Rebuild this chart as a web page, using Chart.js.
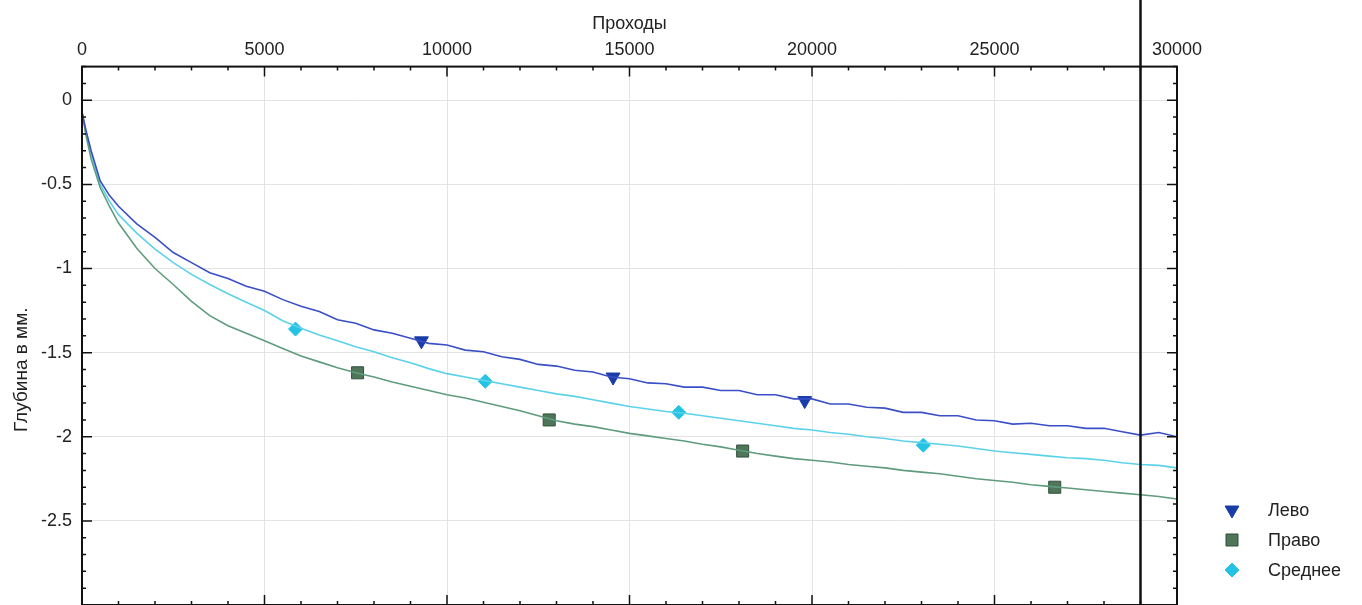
<!DOCTYPE html>
<html lang="ru">
<head>
<meta charset="utf-8">
<title>Глубина по проходам</title>
<script src="https://cdn.jsdelivr.net/npm/chart.js@4.4.1/dist/chart.umd.min.js"></script>
<style>
  html, body { margin: 0; padding: 0; background: #fff; overflow: hidden; }
  #wrap { position: relative; width: 1362px; height: 605px; }
</style>
</head>
<body>
<div id="wrap"><canvas id="depth-chart"></canvas></div>
<script>
// passes (x) shared by the three curves
const passes = [0, 100, 250, 500, 750, 1000, 1500, 2000, 2500, 3000, 3500, 4000, 4500, 5000,
  5500, 6000, 6500, 7000, 7500, 8000, 8500, 9000, 9500, 10000, 10500, 11000, 11500, 12000,
  12500, 13000, 13500, 14000, 14500, 15000, 15500, 16000, 16500, 17000, 17500, 18000, 18500,
  19000, 19500, 20000, 20500, 21000, 21500, 22000, 22500, 23000, 23500, 24000, 24500, 25000,
  25500, 26000, 26500, 27000, 27500, 28000, 28500, 29000, 29500, 30000];

// depth, mm
const levo = [-0.07, -0.17, -0.30, -0.48, -0.565, -0.63, -0.735, -0.815, -0.905, -0.965, -1.025,
  -1.06, -1.105, -1.135, -1.185, -1.225, -1.255, -1.305, -1.325, -1.365, -1.385, -1.415, -1.445,
  -1.455, -1.485, -1.495, -1.525, -1.54, -1.57, -1.58, -1.605, -1.615, -1.645, -1.655, -1.68,
  -1.685, -1.705, -1.705, -1.725, -1.725, -1.75, -1.75, -1.775, -1.775, -1.805, -1.805, -1.825,
  -1.83, -1.855, -1.855, -1.875, -1.875, -1.9, -1.905, -1.925, -1.92, -1.935, -1.935, -1.95,
  -1.95, -1.97, -1.99, -1.975, -2.0];
const pravo = [-0.07, -0.20, -0.35, -0.52, -0.63, -0.73, -0.88, -1.00, -1.095, -1.195, -1.28,
  -1.34, -1.385, -1.43, -1.475, -1.52, -1.555, -1.59, -1.62, -1.645, -1.675, -1.70, -1.725,
  -1.75, -1.77, -1.795, -1.82, -1.845, -1.875, -1.905, -1.925, -1.94, -1.96, -1.98, -1.995,
  -2.01, -2.025, -2.045, -2.06, -2.08, -2.10, -2.115, -2.13, -2.14, -2.15, -2.165, -2.175,
  -2.185, -2.20, -2.21, -2.22, -2.235, -2.25, -2.26, -2.27, -2.285, -2.295, -2.305, -2.315,
  -2.325, -2.335, -2.345, -2.355, -2.37];
const srednee = [-0.07, -0.18, -0.32, -0.50, -0.60, -0.68, -0.79, -0.885, -0.965, -1.035, -1.095,
  -1.15, -1.20, -1.25, -1.31, -1.355, -1.395, -1.43, -1.465, -1.495, -1.53, -1.56, -1.595,
  -1.625, -1.645, -1.665, -1.685, -1.705, -1.725, -1.745, -1.76, -1.78, -1.80, -1.82, -1.835,
  -1.85, -1.86, -1.875, -1.89, -1.905, -1.92, -1.935, -1.95, -1.96, -1.975, -1.985, -2.00,
  -2.01, -2.025, -2.035, -2.045, -2.055, -2.07, -2.085, -2.095, -2.105, -2.115, -2.125, -2.13,
  -2.14, -2.155, -2.165, -2.17, -2.185];

// marker positions on each curve
const levoMarkX = [9300, 14550, 19800];
const levoMarkY = [-1.43, -1.645, -1.785];
const pravoMarkX = [7550, 12800, 18100, 26650];
const pravoMarkY = [-1.62, -1.90, -2.085, -2.30];
const sredMarkX = [5850, 11050, 16350, 23050];
const sredMarkY = [-1.36, -1.67, -1.855, -2.05];

const xTicks = [0, 5000, 10000, 15000, 20000, 25000, 30000];
const yTicks = [0, -0.5, -1, -1.5, -2, -2.5];
const cutAt = 29000;

const zip = (xs, ys) => xs.map((x, i) => ({ x: x, y: ys[i] }));

const FONT = "'Liberation Sans', Arial, sans-serif";
Chart.defaults.font.family = FONT;
Chart.defaults.color = '#222';

// frame with inward ticks, y labels, the cut line, y title and legend
const framePlugin = {
  id: 'frame',
  afterDatasetsDraw(chart) {
    const { ctx, chartArea: a, scales: { x, y } } = chart;
    ctx.save();
    ctx.strokeStyle = '#111';
    ctx.lineWidth = 1.5;
    ctx.beginPath();
    for (let v = 0; v <= 30000; v += 1000) {
      const px = x.getPixelForValue(v);
      const len = v % 5000 === 0 ? 10 : 4;
      ctx.moveTo(px, a.top); ctx.lineTo(px, a.top + len);
      ctx.moveTo(px, a.bottom); ctx.lineTo(px, a.bottom - len);
    }
    for (let i = -30; i <= 2; i++) {
      const py = y.getPixelForValue(i / 10);
      const len = i % 5 === 0 ? 10 : 4;
      ctx.moveTo(a.left, py); ctx.lineTo(a.left + len, py);
      ctx.moveTo(a.right, py); ctx.lineTo(a.right - len, py);
    }
    ctx.stroke();
    ctx.lineWidth = 2;
    ctx.strokeRect(a.left, a.top, a.right - a.left, a.bottom - a.top);

    const cx = x.getPixelForValue(cutAt);
    ctx.lineWidth = 2.5;
    ctx.beginPath();
    ctx.moveTo(cx, 0);
    ctx.lineTo(cx, chart.height);
    ctx.stroke();

    // y tick labels
    ctx.fillStyle = '#222';
    ctx.font = '18px ' + FONT;
    ctx.textAlign = 'right';
    ctx.textBaseline = 'middle';
    yTicks.forEach(v => ctx.fillText(String(v), a.left - 10, y.getPixelForValue(v)));

    // y axis title
    ctx.font = '19px ' + FONT;
    ctx.textAlign = 'center';
    ctx.translate(a.left - 60, (a.top + a.bottom) / 2 + 34);
    ctx.rotate(-Math.PI / 2);
    ctx.fillText('Глубина в мм.', 0, 0);
    ctx.restore();

    // legend
    ctx.save();
    ctx.font = '18px ' + FONT;
    ctx.textAlign = 'left';
    ctx.textBaseline = 'middle';
    chart.data.datasets.forEach(ds => {
      if (ds.legendRow === undefined) return;
      const lx = a.right + 55;
      const ly = a.bottom - 95 + ds.legendRow * 30;
      ctx.fillStyle = ds.pointBackgroundColor;
      ctx.strokeStyle = ds.pointBorderColor;
      ctx.lineWidth = ds.pointBorderWidth;
      Chart.helpers.drawPoint(ctx, {
        pointStyle: ds.pointStyle, radius: ds.pointRadius,
        rotation: ds.pointRotation || 0, borderWidth: ds.pointBorderWidth
      }, lx, ly);
      ctx.fillStyle = '#222';
      ctx.fillText(ds.label, lx + 36, ly + 1);
    });
    ctx.restore();
  }
};

const curve = (label, data, color) => ({
  label: label, data: data, borderColor: color, borderWidth: 1.6,
  pointRadius: 0, tension: 0, fill: false
});
const marks = (label, data, style) => Object.assign({
  label: label, data: data, showLine: false, borderWidth: 0
}, style);

new Chart(document.getElementById('depth-chart'), {
  type: 'line',
  data: {
    datasets: [
      curve('Лево', zip(passes, levo), '#3a4fc6'),
      curve('Право', zip(passes, pravo), '#5f9c7e'),
      curve('Среднее', zip(passes, srednee), '#5cd2ea'),
      marks('Лево', zip(levoMarkX, levoMarkY), {
        legendRow: 0, pointStyle: 'triangle', pointRotation: 180, pointRadius: 8,
        pointBackgroundColor: '#1a3ca8', pointBorderColor: '#1a3ca8', pointBorderWidth: 1
      }),
      marks('Право', zip(pravoMarkX, pravoMarkY), {
        legendRow: 1, pointStyle: 'rect', pointRadius: 8.5,
        pointBackgroundColor: '#4f7659', pointBorderColor: '#30503a', pointBorderWidth: 1
      }),
      marks('Среднее', zip(sredMarkX, sredMarkY), {
        legendRow: 2, pointStyle: 'rectRot', pointRadius: 7,
        pointBackgroundColor: '#24c3e3', pointBorderColor: '#24c3e3', pointBorderWidth: 1
      })
    ]
  },
  options: {
    responsive: true,
    maintainAspectRatio: false,
    animation: false,
    layout: { autoPadding: false, padding: { top: 7, left: 82, right: 185, bottom: 0 } },
    plugins: { legend: { display: false }, tooltip: { enabled: false } },
    scales: {
      x: {
        type: 'linear',
        position: 'top',
        min: 0,
        max: 30000,
        afterBuildTicks: s => { s.ticks = xTicks.map(v => ({ value: v })); },
        ticks: { padding: 6, maxRotation: 0, autoSkip: false, font: { size: 18 }, callback: v => String(v) },
        title: { display: true, text: 'Проходы', font: { size: 18, lineHeight: 1 }, padding: { top: 8, bottom: 0 } },
        grid: { color: '#e3e3e3', drawTicks: false },
        border: { display: false }
      },
      y: {
        min: -3,
        max: 0.2,
        afterBuildTicks: s => { s.ticks = yTicks.map(v => ({ value: v })); },
        ticks: { display: false, padding: 0 },
        grid: { color: '#e3e3e3', drawTicks: false },
        border: { display: false }
      }
    }
  },
  plugins: [framePlugin]
});
</script>
</body>
</html>
